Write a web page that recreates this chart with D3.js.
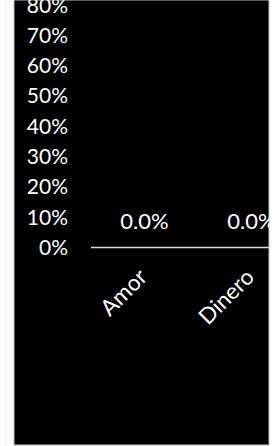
<!DOCTYPE html>
<html>
<head>
<meta charset="utf-8">
<script src="https://cdn.jsdelivr.net/npm/d3@7"></script>
<style>
  html, body { margin: 0; padding: 0; background: #fff; }
  svg { display: block; }
  text { font-family: Lato, "Open Sans", sans-serif; fill: #fff; }
</style>
</head>
<body>
<div id="chart"></div>
<script>
  const categories = ['Amor', 'Dinero']
  const values = [0, 0]
  const yTicks = [0, 0.1, 0.2, 0.3, 0.4, 0.5, 0.6, 0.7, 0.8]

  const width = 279, height = 446
  const frame = { left: 14, right: 269, top: 0, bottom: 445 }

  let svg = d3.select('#chart').append('svg')
    .attr('width', width)
    .attr('height', height)

  // faint page edge on the left
  svg.append('rect')
    .attr('x', 5).attr('y', 0)
    .attr('width', 1).attr('height', height)
    .style('fill', '#f2f2f2')

  // black chart area
  svg.append('rect')
    .attr('x', frame.left).attr('y', frame.top)
    .attr('width', frame.right - frame.left)
    .attr('height', frame.bottom - frame.top)
    .style('fill', '#000')
    .style('stroke', '#bfbfbf')
    .style('stroke-width', 1)

  svg.append('clipPath').attr('id', 'clip')
    .append('rect')
    .attr('x', frame.left).attr('y', 0)
    .attr('width', frame.right - frame.left)
    .attr('height', frame.bottom)

  let g = svg.append('g').attr('clip-path', 'url(#clip)')

  // plot runs past the right edge of the frame and gets clipped there
  let x = d3.scaleBand().domain(categories).range([91, 305])
    .paddingInner(0.3).paddingOuter(0.15)
  let y = d3.scaleLinear().domain([0, 0.8]).range([247.5, 5])
  let cx = d => x(d) + x.bandwidth() / 2

  // y labels
  g.selectAll('.ylab')
    .data(yTicks)
    .enter()
    .append('text')
    .attr('class', 'ylab')
    .attr('x', 68)
    .attr('y', d => y(d))
    .attr('dy', '0.36em')
    .attr('text-anchor', 'end')
    .style('font-size', '21px')
    .text(d3.format('.0%'))

  // bars (zero height)
  g.selectAll('.bar')
    .data(values)
    .enter()
    .append('rect')
    .attr('class', 'bar')
    .attr('x', (d, i) => x(categories[i]))
    .attr('width', x.bandwidth())
    .attr('y', d => y(d))
    .attr('height', d => y(0) - y(d))
    .style('fill', '#4472c4')

  // zero line
  g.append('line')
    .attr('x1', 91).attr('x2', 305)
    .attr('y1', y(0)).attr('y2', y(0))
    .style('stroke', '#d9d9d9')
    .style('stroke-width', 1.5)

  // data labels
  g.selectAll('.dlab')
    .data(values)
    .enter()
    .append('text')
    .attr('class', 'dlab')
    .attr('x', (d, i) => cx(categories[i]))
    .attr('y', d => y(d) - 26)
    .attr('dy', '0.36em')
    .attr('text-anchor', 'middle')
    .style('font-size', '22px')
    .text(d3.format('.1%'))

  // category labels, rotated
  g.selectAll('.xlab')
    .data(categories)
    .enter()
    .append('text')
    .attr('class', 'xlab')
    .attr('transform', d => `translate(${cx(d) + 4},${y(0) + 31}) rotate(-45)`)
    .attr('text-anchor', 'end')
    .style('font-size', '22.5px')
    .text(d => d)
</script>
</body>
</html>
